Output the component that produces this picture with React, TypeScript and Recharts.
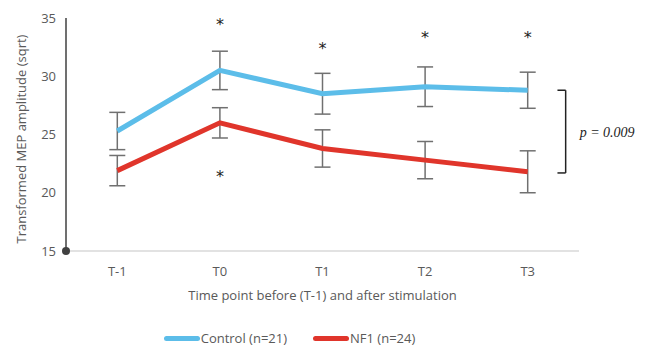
import {
  ComposedChart,
  ErrorBar,
  Legend,
  Line,
  ReferenceDot,
  ReferenceLine,
  Scatter,
  XAxis,
  YAxis,
} from 'recharts';

const timePoints = ['T-1', 'T0', 'T1', 'T2', 'T3'];
const controlMean = [25.3, 30.5, 28.5, 29.1, 28.8];
const controlErr = [1.6, 1.65, 1.75, 1.7, 1.55];
const nf1Mean = [21.9, 26.0, 23.8, 22.8, 21.8];
const nf1Err = [1.3, 1.3, 1.6, 1.6, 1.8];
const starsAbove = [null, 34.5, 32.4, 33.4, 33.4];
const starsBelow = [null, 21.4, null, null, null];
const yTicks = [15, 20, 25, 30, 35];
const bracketTop = 28.8;
const bracketBottom = 21.7;
const bracketX = 4.37;
const bracketArm = 4.29;

const BLUE = '#5cbde9';
const RED = '#e0352b';
const FONT = '"Open Sans", sans-serif';

const rows = timePoints.map((_, i) => ({
  x: i,
  control: controlMean[i],
  controlErr: controlErr[i],
  nf1: nf1Mean[i],
  nf1Err: nf1Err[i],
}));

const stars = [...starsAbove, ...starsBelow]
  .map((y, i) => ({ x: i % timePoints.length, y }))
  .filter((d) => d.y != null);

const Star = (props: any) => (
  <text
    x={props.cx}
    y={props.cy + 6}
    textAnchor="middle"
    fontSize={16}
    fill="#222"
    fontFamily="DejaVu Sans, sans-serif"
  >
    *
  </text>
);

const legendItems = [
  { name: 'Control (n=21)', color: BLUE },
  { name: 'NF1 (n=24)', color: RED },
];

const LegendContent = () => (
  <div
    style={{
      display: 'flex',
      justifyContent: 'center',
      gap: 26,
      fontFamily: FONT,
      fontSize: 13,
      lineHeight: '14px',
      height: 14,
      color: '#595959',
    }}
  >
    {legendItems.map((it) => (
      <span key={it.name} style={{ display: 'flex', alignItems: 'center' }}>
        <span style={{ width: 36, height: 5, background: it.color, borderRadius: 3, marginRight: 1 }} />
        {it.name}
      </span>
    ))}
  </div>
);

export default function App() {
  return (
    <div style={{ position: 'absolute', left: 0, top: 0, background: '#fff' }}>
      <ComposedChart width={658} height={346} data={rows} margin={{ top: 18, right: 79, bottom: 0, left: 0 }}>
        <XAxis
          dataKey="x"
          type="number"
          domain={[-0.5, 4.5]}
          ticks={[0, 1, 2, 3, 4]}
          tickFormatter={(v: number) => timePoints[v]}
          tick={{ fontSize: 13, fill: '#595959', fontFamily: FONT }}
          tickLine={false}
          axisLine={{ stroke: '#d9d9d9', strokeWidth: 1.5 }}
          tickMargin={10}
          height={80}
          label={{ value: 'Time point before (T-1) and after stimulation', position: 'insideTop', offset: 40, fontSize: 13, fill: '#595959', fontFamily: FONT }}
        />
        <YAxis
          type="number"
          domain={[15, 35]}
          ticks={yTicks}
          tick={{ fontSize: 13, fill: '#595959', fontFamily: FONT }}
          tickLine={false}
          tickMargin={4}
          axisLine={{ stroke: '#404040', strokeWidth: 1.5 }}
          width={66}
          label={{ value: 'Transformed MEP amplitude (sqrt)', angle: -90, position: 'insideLeft', offset: 21, dy: 109, fontSize: 13, fill: '#595959', fontFamily: FONT }}
        />
        <Legend verticalAlign="bottom" height={15} content={<LegendContent />} />
        <ReferenceDot x={-0.5} y={15} r={4} fill="#404040" stroke="none" ifOverflow="visible" />
        <Line dataKey="control" stroke={BLUE} strokeWidth={5} dot={false} isAnimationActive={false}>
          <ErrorBar dataKey="controlErr" width={8} stroke="#707070" strokeWidth={1.5} direction="y" />
        </Line>
        <Line dataKey="nf1" stroke={RED} strokeWidth={5} dot={false} isAnimationActive={false}>
          <ErrorBar dataKey="nf1Err" width={8} stroke="#707070" strokeWidth={1.5} direction="y" />
        </Line>
        <Scatter data={stars} dataKey="y" shape={<Star />} isAnimationActive={false} />
        <ReferenceLine
          segment={[{ x: bracketX, y: bracketTop }, { x: bracketX, y: bracketBottom }]}
          stroke="#222"
          strokeWidth={1.5}
          ifOverflow="visible"
          label={{ value: 'p = 0.009', position: 'right', offset: 14, fontSize: 14, fontStyle: 'italic', fill: '#222', fontFamily: '"Liberation Serif", serif' }}
        />
        <ReferenceLine segment={[{ x: bracketArm, y: bracketTop }, { x: bracketX, y: bracketTop }]} stroke="#222" strokeWidth={1.5} ifOverflow="visible" />
        <ReferenceLine segment={[{ x: bracketArm, y: bracketBottom }, { x: bracketX, y: bracketBottom }]} stroke="#222" strokeWidth={1.5} ifOverflow="visible" />
      </ComposedChart>
    </div>
  );
}
